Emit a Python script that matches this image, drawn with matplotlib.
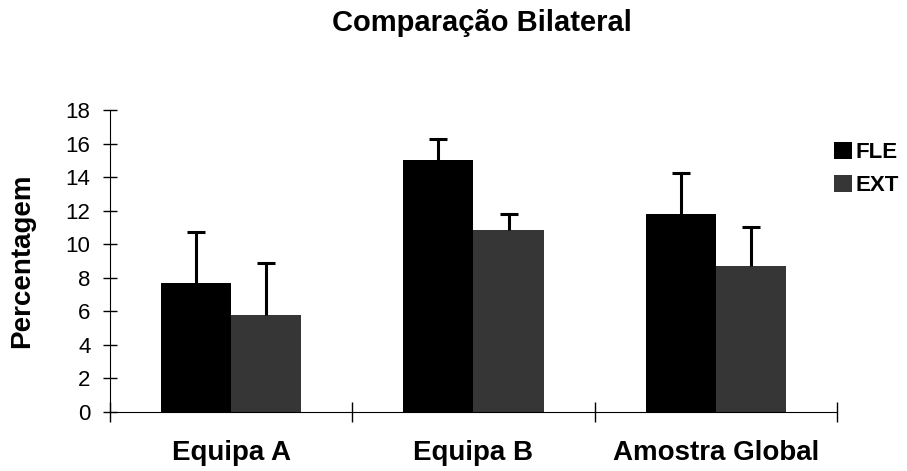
import matplotlib
matplotlib.use('Agg')
import matplotlib.pyplot as plt
import numpy as np

plt.rcParams['font.family'] = ['Liberation Sans', 'DejaVu Sans']

categories = ['Equipa A', 'Equipa B', 'Amostra Global']
fle = [7.7, 15.0, 11.8]
ext = [5.8, 10.85, 8.7]
fle_err = [3.0, 1.3, 2.45]
ext_err = [3.1, 0.95, 2.3]

fig = plt.figure(figsize=(9.07, 4.71), dpi=100)
ax = fig.add_axes([0.1213, 0.1253, 0.8015, 0.6412])

x = np.arange(len(categories))
w = 0.29
err_kw = dict(elinewidth=2.2, capsize=6.5, capthick=2.2, ecolor='black')
b1 = ax.bar(x - w / 2, fle, w, color='black', label='FLE',
            yerr=[np.zeros(3), fle_err], error_kw=err_kw)
b2 = ax.bar(x + w / 2, ext, w, color='#363636', label='EXT',
            yerr=[np.zeros(3), ext_err], error_kw=err_kw)
# only the upper cap
for b in (b1, b2):
    b.errorbar.lines[1][0].set_visible(False)

ax.set_xlim(-0.5, 2.5)
ax.set_ylim(0, 18)
ax.set_yticks(range(0, 19, 2))
ax.set_xticks([-0.5, 0.5, 1.5, 2.5])
ax.set_xticklabels([])
ax.set_xticks(x, minor=True)
ax.set_xticklabels(categories, minor=True, fontsize=20, fontweight='bold')
ax.tick_params(axis='x', which='minor', length=0, pad=20)
ax.tick_params(axis='x', which='major', direction='inout', length=14, width=1)
ax.tick_params(axis='y', direction='inout', length=10, width=1, labelsize=16, pad=9)

for s in ['top', 'right']:
    ax.spines[s].set_visible(False)

ax.set_ylabel('Percentagem', fontsize=20, fontweight='bold', labelpad=22)
fig.text(0.531, 0.951, 'Comparação Bilateral', fontsize=21, fontweight='bold',
         ha='center', va='center')

leg = fig.legend(loc='upper left', bbox_to_anchor=(0.920, 0.699), frameon=False,
                 prop={'weight': 'bold', 'size': 16}, handlelength=0.8,
                 handleheight=0.8, handletextpad=0.15, labelspacing=0.55,
                 borderpad=0, borderaxespad=0)

fig.savefig('out.png', dpi=100)
